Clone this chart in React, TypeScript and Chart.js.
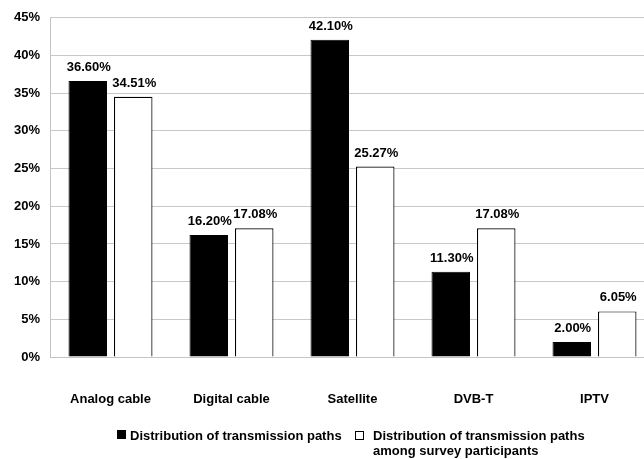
import React, { useEffect, useRef } from "react";
import { Chart, registerables } from "chart.js";

Chart.register(...registerables);

const categories = ["Analog cable", "Digital cable", "Satellite", "DVB-T", "IPTV"];
const transmissionPaths = [36.6, 16.2, 42.1, 11.3, 2.0];
const surveyParticipants = [34.51, 17.08, 25.27, 17.08, 6.05];
const seriesLabels = [
  ["Distribution of transmission paths"],
  ["Distribution of transmission paths", "among survey participants"],
];

const FONT = "'Liberation Sans', Arial, Helvetica, sans-serif";

// Percentage labels above each bar
const valueLabels = {
  id: "valueLabels",
  afterDatasetsDraw(chart: any) {
    const ctx = chart.ctx;
    ctx.save();
    ctx.font = `bold 13px ${FONT}`;
    ctx.fillStyle = "#000";
    ctx.textAlign = "center";
    ctx.textBaseline = "alphabetic";
    chart.data.datasets.forEach((ds: any, di: number) => {
      const meta = chart.getDatasetMeta(di);
      meta.data.forEach((bar: any, i: number) => {
        const v = ds.data[i] as number;
        ctx.fillText(v.toFixed(2) + "%", bar.x + 1, bar.y - 10);
      });
    });
    ctx.restore();
  },
};

// Legend row below the axis, second entry wraps onto two lines
const bottomLegend = {
  id: "bottomLegend",
  afterDraw(chart: any) {
    const ctx = chart.ctx;
    ctx.save();
    ctx.font = `bold 13px ${FONT}`;
    ctx.textAlign = "left";
    ctx.textBaseline = "alphabetic";
    const starts = [117, 355];
    chart.data.datasets.forEach((ds: any, di: number) => {
      const x = starts[di];
      ctx.fillStyle = ds.backgroundColor;
      ctx.strokeStyle = "#000";
      ctx.lineWidth = 1;
      if (di === 0) {
        ctx.fillStyle = "#000";
        ctx.fillRect(x, 430, 9, 9);
      } else {
        ctx.fillStyle = "#fff";
        ctx.fillRect(x + 0.5, 431.5, 8, 8);
        ctx.strokeRect(x + 0.5, 431.5, 8, 8);
      }
      ctx.fillStyle = "#000";
      const lines = seriesLabels[di];
      lines.forEach((line, li) => {
        ctx.fillText(line, x + (di === 0 ? 13 : 18), 440 + li * 15);
      });
    });
    ctx.restore();
  },
};

export default function App() {
  const canvasRef = useRef<HTMLCanvasElement | null>(null);

  useEffect(() => {
    if (!canvasRef.current) return;
    const chart = new Chart(canvasRef.current, {
      type: "bar",
      data: {
        labels: categories,
        datasets: [
          {
            label: seriesLabels[0].join(" "),
            data: transmissionPaths,
            backgroundColor: "#000000",
            borderColor: "#000000",
            borderWidth: 1,
            categoryPercentage: 0.752,
            barPercentage: 0.846,
          },
          {
            label: seriesLabels[1].join(" "),
            data: surveyParticipants,
            backgroundColor: "#ffffff",
            borderColor: "#000000",
            borderWidth: 1.2,
            categoryPercentage: 0.752,
            barPercentage: 0.846,
          },
        ],
      },
      options: {
        responsive: false,
        animation: false,
        devicePixelRatio: 1,
        layout: { padding: { top: 16, right: 5, left: 0, bottom: 0 } },
        plugins: {
          legend: { display: false },
          tooltip: { enabled: false },
        },
        scales: {
          x: {
            grid: { display: false, drawTicks: false },
            border: { display: true, color: "#c4c4c4", width: 1 },
            ticks: {
              padding: 35,
              color: "#000",
              font: { family: FONT, size: 13, weight: "bold" },
            },
            afterFit(scale: any) {
              scale.height = 102;
            },
          },
          y: {
            min: 0,
            max: 45,
            grid: { color: "#c8c8c8", lineWidth: 1, drawTicks: false },
            border: { display: true, color: "#c4c4c4", width: 1 },
            ticks: {
              stepSize: 5,
              padding: 10,
              color: "#000",
              font: { family: FONT, size: 13, weight: "bold" },
              callback: (v: any) => `${v}%`,
            },
            afterFit(scale: any) {
              scale.width = 50;
            },
          },
        },
      },
      plugins: [valueLabels, bottomLegend],
    });
    return () => chart.destroy();
  }, []);

  return (
    <div
      style={{
        position: "fixed",
        left: 0,
        top: 0,
        width: 644,
        height: 459,
        overflow: "hidden",
        background: "#fff",
      }}
    >
      <canvas ref={canvasRef} width={660} height={459} style={{ display: "block" }} />
    </div>
  );
}
